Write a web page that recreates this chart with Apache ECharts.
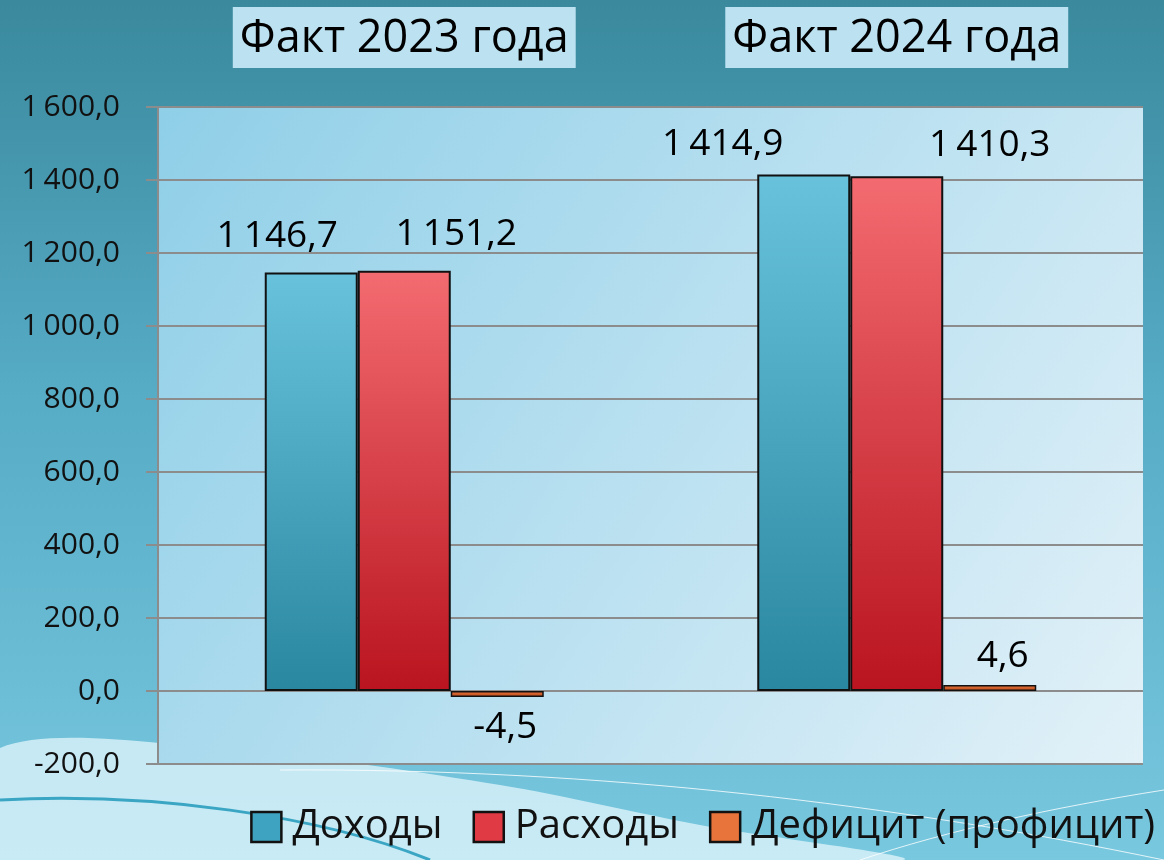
<!DOCTYPE html>
<html>
<head>
<meta charset="utf-8">
<script src="https://cdn.jsdelivr.net/npm/echarts@6/dist/echarts.min.js"></script>
<style>
  html, body { margin: 0; padding: 0; }
  #chart { width: 1164px; height: 860px; }
</style>
</head>
<body>
<div id="chart"></div>
<script>
var categories = ['Факт 2023 года', 'Факт 2024 года'];
var seriesNames = ['Доходы', 'Расходы', 'Дефицит (профицит)'];
var incomeData = [1146.7, 1414.9];
var expenseData = [1151.2, 1410.3];
var deficitData = [-4.5, 4.6];
var yMin = -200, yMax = 1600, yStep = 200;

// formats 1146.7 -> "1 146,7"
function fmt(v) {
  var s = Math.abs(v).toFixed(1).split('.');
  var intPart = s[0].replace(/\B(?=(\d{3})+(?!\d))/g, '\u2009');
  return (v < 0 ? '-' : '') + intPart + ',' + s[1];
}

function grad(top, bottom) {
  return {
    type: 'linear', x: 0, y: 0, x2: 0, y2: 1,
    colorStops: [{ offset: 0, color: top }, { offset: 1, color: bottom }]
  };
}

// label shifts like in the source slide
var labelShift = {
  0: [[-34, -8], [-81, -2]],
  1: [[52, -8], [93, -2]],
  2: [[8, 2], [13, 0]]
};

function buildData(values, idx) {
  return values.map(function (v, i) {
    return {
      value: v,
      label: {
        position: v < 0 ? 'bottom' : 'top',
        offset: labelShift[idx][i]
      }
    };
  });
}

var colors = [
  grad('#68c2dc', '#2a87a0'),
  grad('#f36b70', '#b9141f'),
  grad('#e8743c', '#b84a1a')
];
var legendColors = ['#3ea3c0', '#e03a44', '#e8743c'];
var allData = [incomeData, expenseData, deficitData];

var chart = echarts.init(document.getElementById('chart'));
var option = {
  backgroundColor: {
    type: 'linear', x: 0, y: 0, x2: 0, y2: 1,
    colorStops: [
      { offset: 0, color: '#3a899d' },
      { offset: 0.45, color: '#56abc5' },
      { offset: 1, color: '#78c8df' }
    ]
  },
  textStyle: { fontFamily: 'Open Sans, sans-serif' },
  graphic: [
    {
      type: 'polygon', silent: true, z: -1,
      shape: { points: [[0, 748], [250, 752], [500, 785], [700, 825], [900, 860], [0, 860]], smooth: 0.3 },
      style: { fill: 'rgba(235,250,255,0.7)' }
    },
    {
      type: 'bezierCurve', silent: true, z: -1,
      shape: { x1: 0, y1: 800, cpx1: 150, cpy1: 792, cpx2: 320, cpy2: 815, x2: 430, y2: 860 },
      style: { fill: null, stroke: '#3aa6c4', lineWidth: 3 }
    },
    {
      type: 'bezierCurve', silent: true, z: -1,
      shape: { x1: 280, y1: 770, cpx1: 600, cpy1: 768, cpx2: 900, cpy2: 805, x2: 1164, y2: 860 },
      style: { fill: null, stroke: 'rgba(255,255,255,0.8)', lineWidth: 1 }
    },
    {
      type: 'bezierCurve', silent: true, z: -1,
      shape: { x1: 860, y1: 860, cpx1: 950, cpy1: 830, cpx2: 1050, cpy2: 808, x2: 1164, y2: 790 },
      style: { fill: null, stroke: 'rgba(255,255,255,0.8)', lineWidth: 1 }
    }
  ],
  grid: {
    left: 158, right: 21, top: 107, bottom: 96,
    show: true,
    borderWidth: 0,
    backgroundColor: {
      type: 'linear', x: 0, y: 0, x2: 1, y2: 1,
      colorStops: [
        { offset: 0, color: '#8fcfe8' },
        { offset: 1, color: '#e2f1f8' }
      ]
    }
  },
  legend: {
    data: seriesNames.map(function (n, i) {
      return { name: n, itemStyle: { color: legendColors[i], borderColor: '#111', borderWidth: 2.5 } };
    }),
    bottom: 8, right: 4,
    itemWidth: 30, itemHeight: 30, itemGap: 30,
    icon: 'rect',
    textStyle: { fontSize: 40, color: '#111', padding: [0, 0, 0, 6] }
  },
  xAxis: {
    type: 'category',
    position: 'top',
    data: categories,
    axisLine: { show: false },
    axisTick: { show: false },
    axisLabel: {
      fontSize: 45, color: '#000',
      margin: 39,
      padding: [10, 7, 6, 7],
      backgroundColor: '#bce2f1'
    }
  },
  yAxis: {
    type: 'value',
    min: yMin, max: yMax, interval: yStep,
    axisLine: { show: true, lineStyle: { color: '#8c8c8c', width: 2 } },
    axisTick: { show: true, length: 12, lineStyle: { color: '#8c8c8c', width: 2 } },
    splitLine: { lineStyle: { color: '#8c8c8c', width: 2 } },
    axisLabel: {
      fontSize: 30, color: '#111', margin: 38,
      formatter: function (v) { return fmt(v); }
    }
  },
  series: allData.map(function (vals, i) {
    return {
      name: seriesNames[i],
      type: 'bar',
      barWidth: 93,
      barGap: '0%',
      barMinHeight: 6,
      data: buildData(vals, i),
      itemStyle: { color: colors[i], borderColor: '#111', borderWidth: i === 2 ? 1.5 : 2 },
      label: {
        show: true,
        fontSize: 37, color: '#000',
        distance: 10,
        formatter: function (p) { return fmt(p.value); }
      }
    };
  })
};
chart.setOption(option);
</script>
</body>
</html>
